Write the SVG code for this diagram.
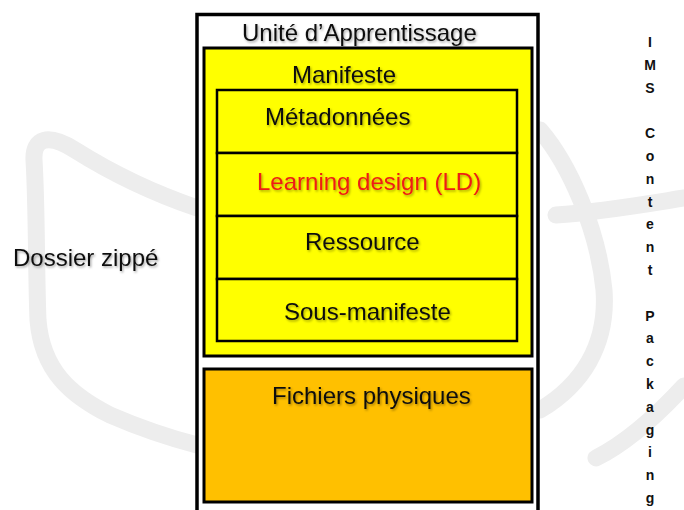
<svg xmlns="http://www.w3.org/2000/svg" width="684" height="510" viewBox="0 0 684 510">
<defs>
<filter id="sh" x="-10%" y="-30%" width="120%" height="160%">
<feDropShadow dx="1.2" dy="1.5" stdDeviation="0.9" flood-color="#000" flood-opacity="0.35"/>
</filter>
</defs>
<style>
.t{font-family:"Liberation Sans",Arial,sans-serif;font-size:24px;fill:#111;filter:url(#sh)}
.red{fill:#ee1c14}
.v{font-family:"Liberation Sans",Arial,sans-serif;font-size:14px;font-weight:bold;fill:#111;text-anchor:middle}
.wm{fill:none;stroke:#ededed;stroke-width:17;stroke-linecap:round}
.box{stroke:#000}
</style>
<rect width="684" height="510" fill="#fff"/>
<g id="watermark">
<path class="wm" d="M 197,208 C 150,192 110,172 75,150 C 48,133 33,138 34,160 C 37,210 36,270 38,320 C 42,370 70,395 110,415 C 140,428 170,438 197,445"/>
<path class="wm" d="M 540,130 C 570,165 598,230 604,290 C 608,345 582,385 540,410"/>
<path class="wm" d="M 556,215 C 600,212 640,205 684,198"/>
<path class="wm" d="M 596,458 C 628,442 660,412 684,386"/>
</g>
<g id="unite">
<rect class="box" x="197" y="14.5" width="341" height="520" fill="#fff" stroke-width="3.5"/>
<text class="t" x="242" y="41">Unité d’Apprentissage</text>
</g>
<g id="manifeste">
<rect class="box" x="204" y="48" width="328" height="308" fill="#ffff00" stroke-width="3"/>
<text class="t" x="292" y="83">Manifeste</text>
</g>
<g id="metadonnees">
<rect class="box" x="217" y="90" width="300" height="63" fill="#ffff00" stroke-width="2.5"/>
<text class="t" x="265" y="125">Métadonnées</text>
</g>
<g id="learning-design">
<rect class="box" x="217" y="153" width="300" height="63" fill="#ffff00" stroke-width="2.5"/>
<text class="t red" x="257" y="190">Learning design (LD)</text>
</g>
<g id="ressource">
<rect class="box" x="217" y="216" width="300" height="63" fill="#ffff00" stroke-width="2.5"/>
<text class="t" x="305" y="250">Ressource</text>
</g>
<g id="sous-manifeste">
<rect class="box" x="217" y="279" width="300" height="62" fill="#ffff00" stroke-width="2.5"/>
<text class="t" x="284" y="320">Sous-manifeste</text>
</g>
<g id="fichiers">
<rect class="box" x="204" y="369" width="328" height="133" fill="#ffc000" stroke-width="3"/>
<text class="t" x="272" y="404">Fichiers physiques</text>
</g>
<g id="dossier">
<text class="t" x="13" y="266">Dossier zippé</text>
</g>
<g id="ims">
<text class="v" x="650" y="47">I</text>
<text class="v" x="650" y="70">M</text>
<text class="v" x="650" y="93">S</text>
<text class="v" x="650" y="138">C</text>
<text class="v" x="650" y="161">o</text>
<text class="v" x="650" y="184">n</text>
<text class="v" x="650" y="207">t</text>
<text class="v" x="650" y="229">e</text>
<text class="v" x="650" y="252">n</text>
<text class="v" x="650" y="275">t</text>
<text class="v" x="650" y="321">P</text>
<text class="v" x="650" y="343">a</text>
<text class="v" x="650" y="366">c</text>
<text class="v" x="650" y="389">k</text>
<text class="v" x="650" y="412">a</text>
<text class="v" x="650" y="435">g</text>
<text class="v" x="650" y="457">i</text>
<text class="v" x="650" y="480">n</text>
<text class="v" x="650" y="503">g</text>
</g>
<g id="connectors"/>
</svg>
